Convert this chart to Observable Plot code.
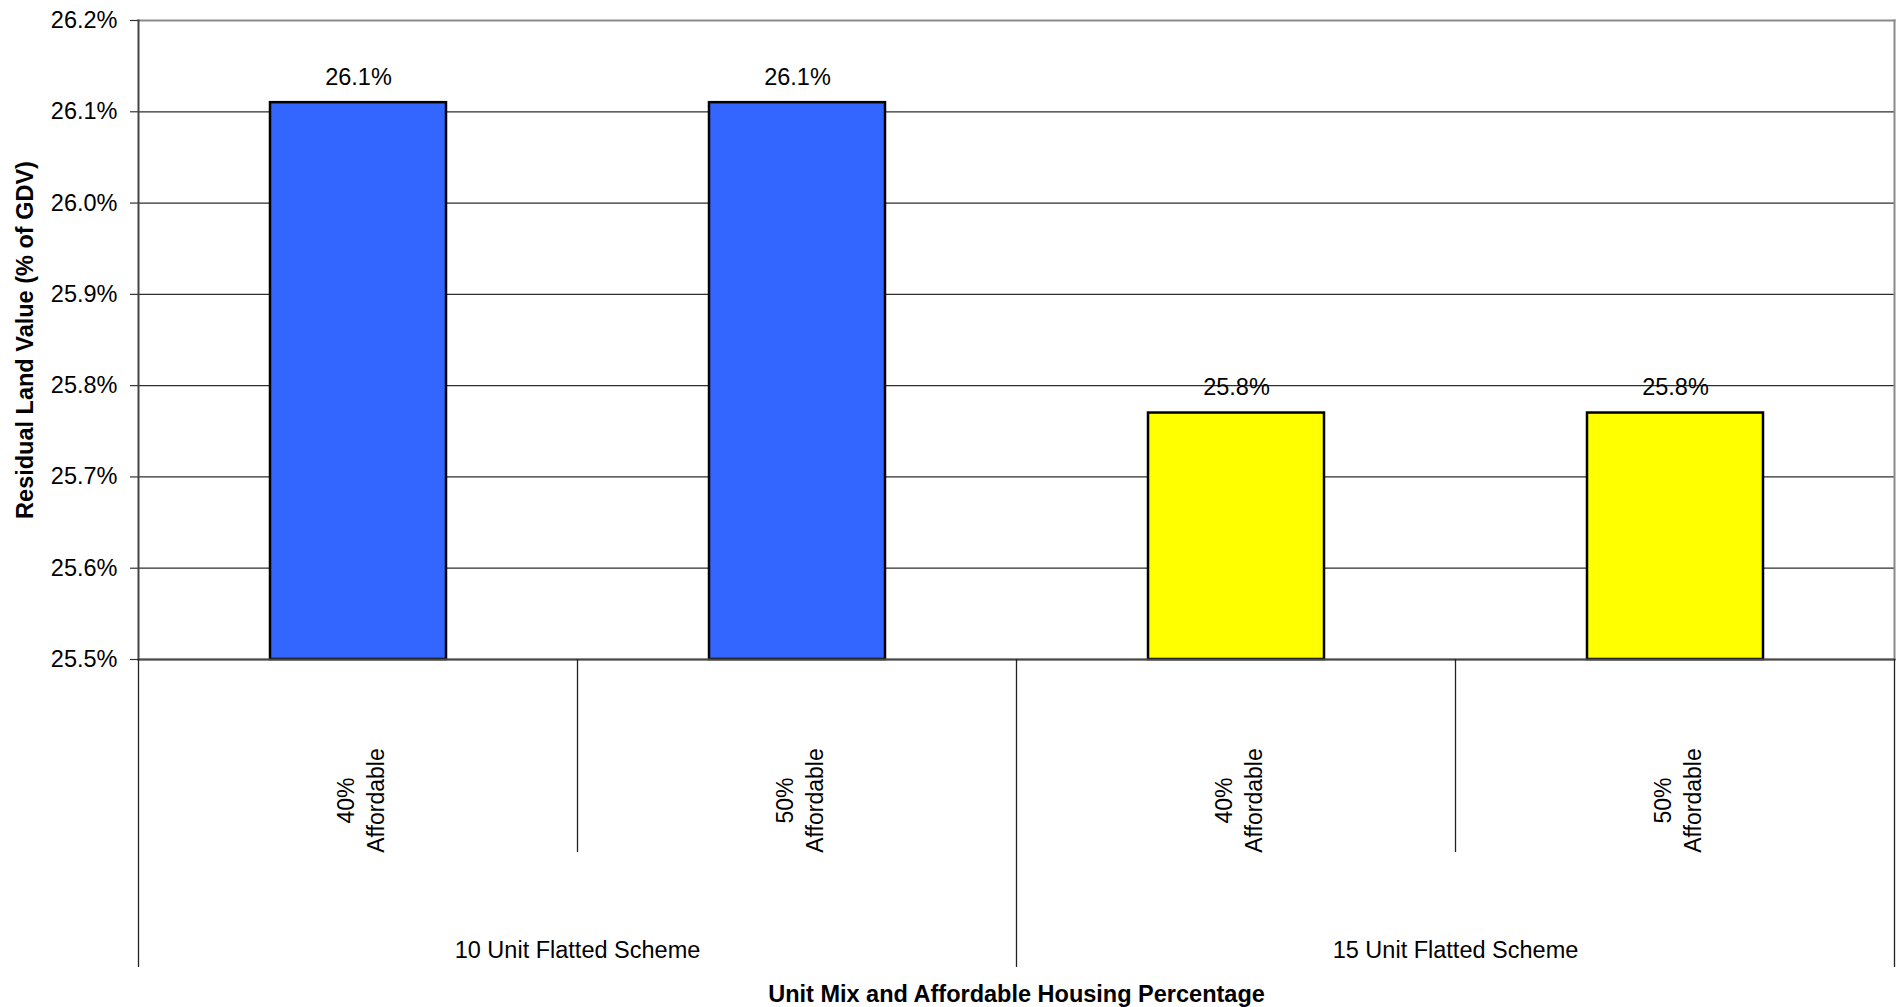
<!DOCTYPE html>
<html>
<head>
<meta charset="utf-8">
<script src="https://cdn.jsdelivr.net/npm/d3@7"></script>
<script src="https://cdn.jsdelivr.net/npm/@observablehq/plot@0.6"></script>
<style>
  html, body { margin: 0; padding: 0; background: #ffffff; }
  #chart svg { display: block; font-family: "Liberation Sans", Arial, Helvetica, sans-serif; }
</style>
</head>
<body>
<div id="chart"></div>
<script>
// Residual land value by scheme and affordable housing share
const groups = ["10 Unit Flatted Scheme", "10 Unit Flatted Scheme", "15 Unit Flatted Scheme", "15 Unit Flatted Scheme"];
const shares = ["40%", "50%", "40%", "50%"];
const values = [26.11, 26.11, 25.77, 25.77];
const yTicks = [25.5, 25.6, 25.7, 25.8, 25.9, 26.0, 26.1, 26.2];
const shareSuffix = "Affordable";
const yTitle = "Residual Land Value (% of GDV)";
const xTitle = "Unit Mix and Affordable Housing Percentage";

const groupFill = {
  "10 Unit Flatted Scheme": "#3366ff",
  "15 Unit Flatted Scheme": "#ffff00"
};

const rows = values.map((v, i) => ({
  key: `${groups[i]}|${shares[i]}`,
  group: groups[i],
  share: shares[i],
  value: v
}));

const pct = d => d.toFixed(1) + "%";
const yBase = yTicks[0];
const FONT = 23.5;

const plot = Plot.plot({
  width: 1896,
  height: 1007,
  marginLeft: 138,
  marginRight: 2,
  marginTop: 20,
  marginBottom: 348,
  style: { background: "#ffffff", color: "#000000", overflow: "visible" },
  x: {
    type: "band",
    domain: rows.map(d => d.key),
    paddingInner: 0.6,
    paddingOuter: 0.3,
    axis: null
  },
  y: { domain: [yTicks[0], yTicks[yTicks.length - 1]], axis: null },
  marks: [
    // horizontal gridlines
    Plot.ruleY(yTicks.slice(0, -1), { stroke: "#2e2e2e", strokeWidth: 1.3 }),
    // bars
    Plot.barY(rows, {
      x: "key",
      y1: () => yBase,
      y2: "value",
      fill: d => groupFill[d.group],
      stroke: "#000000",
      strokeWidth: 2.5
    }),
    // plot border: grey top and right, dark axis lines
    Plot.frame({ anchor: "top", stroke: "#8a8a8a", strokeWidth: 2 }),
    Plot.frame({ anchor: "right", stroke: "#8a8a8a", strokeWidth: 2 }),
    Plot.frame({ anchor: "bottom", stroke: "#4a4a4a", strokeWidth: 2 }),
    Plot.frame({ anchor: "left", stroke: "#444444", strokeWidth: 2 }),
    // y axis ticks and labels
    Plot.axisY({
      ticks: yTicks,
      tickSize: 8,
      tickPadding: 13,
      tickFormat: pct,
      fontSize: FONT,
      stroke: "#333333",
      strokeWidth: 1.2,
      label: null
    }),
    // value labels above bars
    Plot.text(rows, {
      x: "key",
      y: "value",
      text: d => pct(d.value),
      lineAnchor: "bottom",
      dy: -18,
      fontSize: FONT,
      fill: "#000000"
    }),
    // rotated category labels below the axis
    Plot.text(rows, {
      x: "key",
      text: d => `${d.share}\n${shareSuffix}`,
      frameAnchor: "bottom",
      dy: 141,
      dx: 1,
      rotate: -90,
      textAnchor: "middle",
      lineAnchor: "middle",
      lineHeight: 1.28,
      fontSize: 23,
      fill: "#000000"
    }),
    // y axis title
    Plot.text([yTitle], {
      frameAnchor: "left",
      dx: -113,
      rotate: -90,
      textAnchor: "middle",
      lineAnchor: "middle",
      fontSize: FONT,
      fontWeight: "bold",
      fill: "#000000"
    }),
    // x axis title
    Plot.text([xTitle], {
      frameAnchor: "bottom",
      dy: 342,
      lineAnchor: "bottom",
      fontSize: FONT,
      fontWeight: "bold",
      fill: "#000000"
    })
  ]
});

// Category separators and group labels under the axis, placed from the band scale
const xs = plot.scale("x");
const ys = plot.scale("y");
const keys = rows.map(d => d.key);
const gap = xs.step - xs.bandwidth;
const base = ys.apply(yBase);
const svg = d3.select(plot);
const sep = svg.append("g").attr("stroke", "#222222").attr("stroke-width", 1.3);

for (let i = 0; i <= keys.length; i++) {
  const x = i < keys.length
    ? xs.apply(keys[i]) - gap / 2
    : xs.apply(keys[keys.length - 1]) + xs.bandwidth + gap / 2;
  const groupEdge = i === 0 || i === keys.length || groups[i] !== groups[i - 1];
  sep.append("line")
    .attr("x1", x).attr("x2", x)
    .attr("y1", base).attr("y2", base + (groupEdge ? 308 : 193));
}

const groupNames = Array.from(new Set(groups));
const gl = svg.append("g")
  .attr("font-size", FONT)
  .attr("text-anchor", "middle")
  .attr("fill", "#000000");
for (const g of groupNames) {
  const ks = rows.filter(d => d.group === g).map(d => d.key);
  const cx = (xs.apply(ks[0]) + xs.apply(ks[ks.length - 1]) + xs.bandwidth) / 2;
  gl.append("text").attr("x", cx).attr("y", base + 299).text(g);
}

document.getElementById("chart").append(plot);
</script>
</body>
</html>
